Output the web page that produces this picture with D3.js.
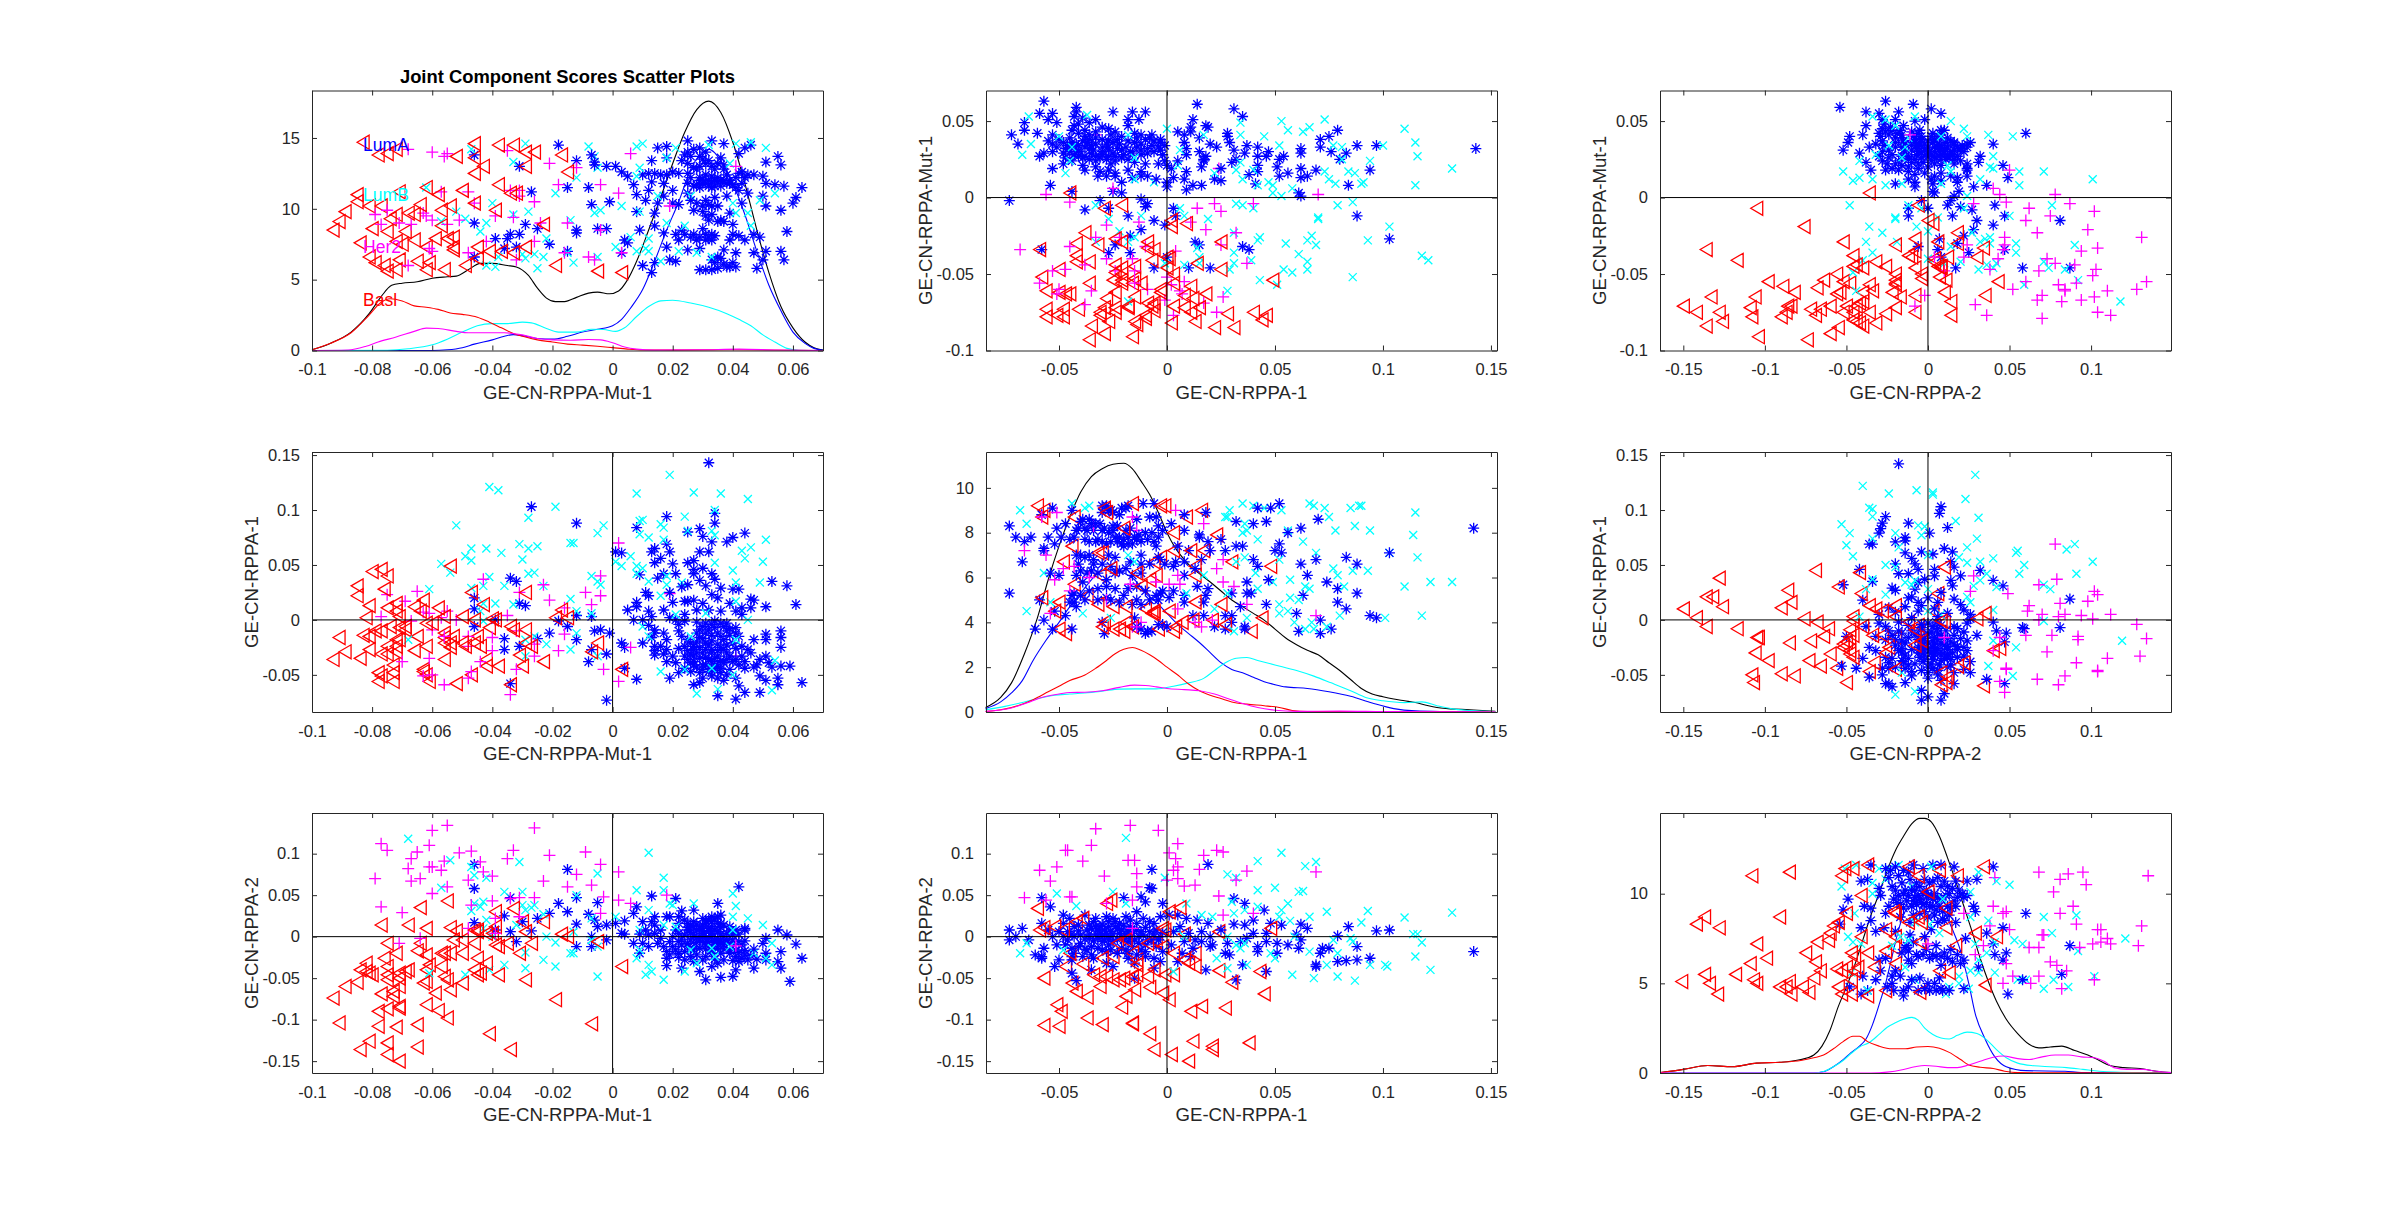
<!DOCTYPE html>
<html>
<head>
<title>Joint Component Scores Scatter Plots</title>
<style>
  html, body { margin: 0; background: white; }
  text { font-family: "Liberation Sans", Arial, sans-serif; fill: #262626; }
</style>
<script src="https://cdn.jsdelivr.net/npm/d3@7"></script>
</head>
<body>
<div id="chart"></div>
<script>
// scores are kept x1000, pairs are [x, y]
var names = ['GE-CN-RPPA-Mut-1', 'GE-CN-RPPA-1', 'GE-CN-RPPA-2'];
var classNames = ['LumA', 'LumB', 'Her2', 'Basl'];

// Mut-1 against RPPA-1
var mr1_lumA = [[-27,103],[-12,88],[-34,38],[-32,35],[-46,20],[-46,10],[-46,-6],[-39,0],[-31,15],[-29,13],[-12,4],[-7,3],[-18,-1],[-15,-6],[-21,-12],[-25,-17],[-36,-17],[-36,-27],[-31,-24],[-12,-18],[-6,-10],[-4,-9],[-1,-12],[-7,-27],[-8,-38],[-2,-31],[-2,-73],[-34,-58],[3,-21],[4,-25],[4,-44],
[32,143],[34,97],[34,88],[18,94],[8,84],[29,83],[30,76],[25,80],[44,79],[40,75],[38,71],[33,71],[18,69],[1,62],[3,61],[13,62],[14,65],[16,56],[29,62],[32,62],[20,51],[9,41],[17,42],[21,42],[25,52],[27,54],[27,42],[27,46],[30,47],[33,42],[34,37],[25,32],[31,31],[40,28],[42,28],[53,35],[58,31],[61,14],[51,12],[46,19],[47,18],[11,25],[12,22],[8,16],[8,12],[5,9],[7,0],[12,8],[13,3],[17,9],[20,16],[24,17],[25,17],[27,18],[28,9],[33,23],[35,20],[32,9],[36,8],[39,15],[41,8],[43,11],[43,5],[46,11],
[10,0],[19,2],[21,0],[24,-1],[31,-3],[33,-4],[36,-3],[41,-7],[29,-9],[32,-9],[35,-12],[38,-10],[41,-12],[22,-10],[14,-9],[14,-12],[13,-16],[10,-21],[14,-24],[18,-18],[23,-15],[25,-18],[29,-16],[31,-21],[33,-19],[37,-18],[40,-21],[43,-24],[47,-18],[51,-13],[51,-18],[56,-10],[56,-16],[56,-25],
[14,-28],[18,-27],[14,-32],[18,-38],[21,-39],[24,-24],[24,-33],[27,-27],[27,-33],[30,-30],[33,-27],[35,-33],[38,-30],[43,-33],[45,-27],[49,-36],[51,-33],[52,-39],[53,-43],[56,-42],[59,-42],[44,-44],[47,-43],[51,-55],[49,-51],[55,-53],[55,-59],[63,-57],[49,-66],[44,-66],[41,-72],[35,-69],[42,-60],[41,-53],[29,-57],[27,-59],[30,-53],[22,-48],[19,-53],[8,-54],[27,-38],[27,-41],[30,-41],[33,-38],[33,-44],[35,-42],[37,-39],[39,-45],[24,-44],[26,-47],
[30,-6],[34,-7],[37,-6],[39,-8],[28,-12],[31,-12],[33,-14],[36,-15],[39,-14],[42,-15],[26,-21],[28,-20],[30,-17],[32,-23],[35,-22],[36,-25],[38,-23],[41,-26],[27,-24],[29,-25],[31,-27],[33,-30],[35,-28],[37,-27],[39,-33],[41,-36],[25,-28],[26,-31],[28,-30],[29,-35],[31,-34],[32,-36],[34,-35],[36,-37],[38,-36],[40,-38],[42,-41],[25,-36],[26,-39],[28,-43],[30,-45],[32,-47],[34,-46],[36,-48],[38,-50],[33,-51],[35,-53],[37,-55],[31,-41],[29,-48],[34,-41],[36,-44],[22,-26],[20,-33],[17,-31],[16,-24],[46,-30],[48,-41],[44,-38],[17,-12],[22,-4],[28,-2],[34,-1],[38,-3],[30,15],[24,5],[19,25],[23,30],[36,29],[29,36],[12,-5],[15,38],[14,52],[19,62]];
var mr1_lumB = [[-41,121],[-38,118],[-28,93],[-19,103],[-52,86],[-47,65],[-49,58],[-47,54],[-42,65],[-37,61],[-31,69],[-28,65],[-25,67],[-30,55],[-57,51],[-54,43],[-61,28],[-28,42],[-26,43],[-41,39],[-47,29],[-43,31],[-36,31],[-23,31],[-14,70],[-13,70],[-3,86],[-5,79],[-7,40],[-5,35],[-4,32],[-14,19],[-33,14],[-43,15],[-39,15],[-44,8],[-43,-1],[-68,-18],[-29,-18],[-26,-15],[-22,-22],[-14,-27],[-12,-12],[-12,8],[-7,6],[-29,-33],[-5,-33],
[19,132],[8,115],[27,116],[36,115],[45,110],[34,100],[24,94],[10,91],[9,90],[16,87],[17,84],[9,78],[12,75],[25,81],[33,81],[34,77],[51,73],[17,73],[46,66],[43,63],[44,56],[50,53],[6,58],[1,53],[3,49],[8,49],[10,47],[8,42],[12,35],[34,52],[40,45],[41,34],[49,34],[18,40],[23,34],[18,32],[16,22],[45,0],[10,-6],[21,5],[41,17],[54,-37],[53,-64],[28,-67],[35,-63],[16,-47],[40,-50],[24,-45],[41,-18],[12,-15],[33,-44],[26,-15],[31,6]];
var mr1_her2 = [[-75,23],[-69,17],[-65,26],[-77,3],[-67,-1],[-63,7],[-61,6],[-60,-9],[-55,8],[-57,2],[-52,0],[-43,37],[-35,4],[-31,25],[-23,32],[-21,18],[-9,25],[-16,11],[-7,14],[-4,40],[-4,22],[2,70],[19,24],[41,-33],[6,-25],[-3,-45],[2,-56],[-18,-28],[-16,-13],[-32,-10],[-26,-22],[-26,-33],[-32,-45],[-34,-68],[-40,-28],[-40,-16],[-44,-38],[-47,-47],[-48,-53],[-48,-15],[-48,-24],[-56,-59],[-60,-50],[-61,-35],[-63,-51],[-70,-38],[-56,-15]];
var mr1_basl = [[-91,-16],[-89,-29],[-93,-36],[-84,-35],[-85,22],[-85,31],[-80,44],[-77,46],[-75,40],[-76,28],[-81,13],[-82,2],[-75,11],[-72,15],[-72,8],[-71,3],[-79,-10],[-81,-15],[-83,-14],[-81,-27],[-77,-10],[-74,-6],[-71,-7],[-69,-9],[-65,-15],[-72,-18],[-75,-24],[-72,-29],[-77,-31],[-75,-31],[-78,-48],[-73,-48],[-73,-41],[-78,-56],[-77,-51],[-73,-56],[-66,-28],[-62,-24],[-63,-45],[-63,-47],[-62,-50],[-61,-56],[-56,-36],[-52,-58],[-47,-50],[-42,-36],[-42,-42],[-38,-42],[-34,-59],[-30,-42],[-23,-38],[-31,-32],[-66,12],[-63,18],[-58,11],[-64,8],[-62,-3],[-56,3],[-50,3],[-46,0],[-47,25],[-43,14],[-54,49],[-56,-12],[-56,-16],[-54,-21],[-53,-15],[-60,-3],[-45,-15],[-44,-24],[-41,-7],[-39,0],[-40,1],[-34,-6],[-33,-9],[-29,-9],[-29,25],[-29,-21],[-27,-24],[-17,9],[-19,2],[-15,2],[-5,-21],[-7,-29],[3,-45],[-49,-24],[-50,-21],[-46,-21],[-56,-21],[-54,-25],[-71,-18],[-72,-24],[-69,-6]];

// Mut-1 against RPPA-2
var mr2_lumA = [[-46,87],[-15,81],[-46,58],[42,60],[-34,47],[-12,47],[-18,40],[-5,41],[13,49],[21,46],[35,40],[8,36],[-21,28],[-15,30],[-8,27],[-25,22],[-36,25],[-46,17],[-30,18],[-12,15],[-6,20],[-5,12],[-2,14],[1,16],[4,19],[7,28],[3,4],[4,3],[-27,7],[-34,6],[-39,8],[-32,-6],[-7,0],[-7,-12],[-12,-12],[-2,-4],
[23,31],[27,32],[14,24],[13,18],[18,24],[10,18],[14,14],[11,8],[7,-8],[10,-8],[12,-12],[9,-20],[18,-18],[18,-26],[18,-35],[23,-38],[29,-42],[31,-52],[33,-36],[36,-49],[40,-48],[41,-40],[35,-32],[47,-38],[45,-28],[27,-30],[30,-28],[59,-54],[63,-26],[61,-9],[58,2],[55,8],[56,-18],[56,-38],[55,-30],[51,-2],[50,-8],[51,-20],[51,-28],[44,10],[44,8],[36,26],[33,24],[30,22],[27,18],[25,16],[22,16],[21,8],[19,24],[16,8],[16,-2],[20,0],[22,4],[25,8],[27,12],[31,16],[33,12],[36,16],[39,12],[41,8],[30,4],[33,4],[35,6],[27,0],[29,-4],[32,-2],[35,-2],[37,0],[22,-6],[25,-8],[27,-12],[31,-10],[34,-10],[37,-10],[41,-16],[44,-22],[41,-24],[39,-20],[36,-20],[33,-20],[24,-18],[22,-20],[20,-12],[17,-12],[40,-4],[43,-10],
[26,13],[28,15],[30,14],[31,19],[32,10],[33,18],[34,21],[35,24],[36,11],[37,14],[29,10],[30,7],[32,7],[34,8],[36,3],[38,4],[39,7],[26,5],[27,3],[28,-1],[30,1],[31,-2],[33,0],[34,-5],[36,-5],[38,-4],[40,2],[42,3],[24,2],[23,-3],[26,-4],[28,-7],[30,-6],[32,-7],[34,-7],[36,-8],[38,-7],[40,-9],[42,-6],[44,-5],[25,-12],[27,-16],[29,-14],[31,-15],[33,-16],[35,-14],[37,-15],[39,-16],[42,-19],[44,-17],[46,-23],[48,-27],[43,-26],[47,-15],[23,-10],[19,-6],[21,-16],[19,-22],[22,-25],[24,-28],[26,-24],[28,-22],[31,-24],[34,-27],[37,-28],[40,-29],[42,-30],[30,10],[33,6],[25,11],[28,8],[35,16],[32,20],[24,20],[22,24],[14,4],[15,-8],[12,2],[9,3]];
var mr2_lumB = [[-68,118],[12,101],[-31,90],[-54,92],[-47,84],[-46,74],[-42,71],[-5,76],[-57,59],[17,71],[8,56],[17,56],[-12,50],[-36,54],[-30,54],[40,52],[41,37],[27,40],[19,40],[-47,31],[-46,40],[-44,36],[-43,42],[-30,38],[-29,32],[-27,35],[-26,38],[-23,27],[12,32],[20,38],[-42,20],[-7,22],[40,24],[45,22],[50,14],[-43,10],[-40,0],[-32,14],[-22,0],[-19,-7],[-7,-4],[-13,6],[-5,-12],[-14,-20],[-13,-20],[-29,-19],[-36,-34],[-41,-40],[-29,-38],[-23,-28],[-19,-36],[-49,-46],[-61,-44],[-5,-48],[8,-26],[9,-16],[12,-34],[13,-42],[11,-46],[17,-52],[24,-42],[26,-16],[33,-14],[39,-12],[47,-20],[53,-8],[51,-26],[53,-34],[28,-32],[40,8],[17,14],[9,8],[21,12],[34,-24],[1,24]];
var mr2_her2 = [[-55,134],[-60,128],[-26,131],[-77,112],[-75,104],[-61,110],[-65,102],[-67,94],[-51,101],[-47,103],[-33,104],[-35,94],[-9,102],[-21,98],[-4,87],[2,78],[-44,90],[-43,78],[-40,73],[-12,75],[-56,91],[-57,80],[-61,84],[-60,84],[-68,82],[-79,70],[-67,67],[-64,70],[-55,60],[-48,68],[-23,67],[-15,60],[-7,62],[-60,52],[-77,36],[-70,29],[-47,38],[-40,43],[-34,46],[-31,47],[-26,47],[-3,48],[2,44],[6,40],[18,50],[-4,28],[-31,24],[-39,22],[-48,10],[-64,-2],[-71,-8],[41,-11],[-39,4]];
var mr2_basl = [[-93,-74],[-91,-104],[-89,-60],[-85,-55],[-84,-136],[-81,-126],[-75,-128],[-75,-142],[-71,-150],[-65,-133],[-65,-106],[-78,-108],[-72,-109],[-78,-90],[-75,-87],[-71,-84],[-71,-86],[-73,-72],[-77,-69],[-73,-66],[-71,-60],[-82,-32],[-84,-40],[-82,-42],[-81,-44],[-80,-46],[-75,-46],[-75,-52],[-71,-50],[-71,-44],[-69,-42],[-68,-40],[-63,-56],[-62,-54],[-62,-40],[-61,-34],[-62,-82],[-59,-68],[-58,-89],[-55,-98],[-54,-64],[-55,-52],[-56,-48],[-57,-36],[-57,-20],[-56,-20],[-54,-20],[-62,-22],[-65,-17],[-72,-20],[-76,-26],[-75,-36],[-75,-8],[-77,14],[-68,14],[-62,10],[-64,35],[-55,43],[-64,-8],[-54,11],[-52,7],[-53,-4],[-50,-4],[-50,-20],[-45,8],[-46,-8],[-45,-26],[-50,-56],[-46,-40],[-45,-46],[-42,-32],[-44,-44],[-38,-46],[-41,-117],[-34,-136],[-29,-52],[-31,-20],[-27,-8],[-29,6],[-39,30],[-33,34],[-39,12],[-38,-12],[-35,-8],[-23,18],[-30,18],[-17,3],[-15,0],[-19,-76],[-7,-105],[3,-36],[-5,-6],[-40,4],[-42,4],[-46,8],[-45,6],[-39,-10]];

// RPPA-1 against RPPA-2
var r1r2_lumA = [[-73,8],[-73,-4],[-67,10],[-70,0],[-64,-4],[-58,47],[-54,36],[-58,16],[-61,-22],[-58,-24],[-58,-26],[-57,-14],[-52,-36],[-50,-28],[-48,26],[-44,-44],[-42,-53],[-44,-24],[-44,-28],[-35,-40],[-28,-32],[-25,-36],[-15,-50],[-20,47],[-12,48],[-10,42],[-8,59],[-7,81],[-7,58],[-2,40],[19,87],[31,46],[36,40],[45,32],[32,-52],[46,-42],[18,-40],[35,-34],[84,12],[97,7],[103,8],[142,-18],[94,-26],[88,-28],[79,-30],[83,-29],[69,-34],[69,-36],[88,-12],[79,1],[72,-14],[75,-14],[71,-20],[60,3],[62,15],[65,10],[62,-4],[61,-14],[56,-10],[51,-8],[51,-20],[53,14],[48,16],[46,4],[46,-6],[42,-12],[42,-18],[40,4],[40,20],[36,14],[31,15],[34,-6],[37,-2],[28,-8],[27,-20],[29,-22],[19,16],[16,6],[20,0],[20,-12],[21,-10],[14,20],[9,22],[5,26],[1,26],[8,-6],[13,-4],[11,-24],[5,-30],[7,-20],[-6,-38],[-10,-24],[-3,24],[-6,16],
[-48,16],[-45,22],[-43,12],[-38,26],[-33,22],[-28,24],[-25,22],[-19,24],[-14,30],[-8,18],[-48,0],[-47,-10],[-43,0],[-40,-8],[-37,8],[-36,-2],[-33,12],[-31,4],[-30,-6],[-27,12],[-26,0],[-23,10],[-21,0],[-17,12],[-16,4],[-14,16],[-12,6],[-9,-4],[-5,8],[-3,0],[-37,-16],[-30,-16],[-43,-20],[-53,0],[-51,-10],[-55,8],[-39,-24],[-18,-20],[-16,-12],[-21,-14],[-12,-16],[-5,-12],[-34,-26],[-27,-10],[-24,18],[-18,-26],[-15,-32],
[-46,6],[-44,3],[-41,7],[-40,2],[-38,-3],[-36,3],[-35,10],[-34,-5],[-33,3],[-32,8],[-32,-2],[-31,12],[-30,2],[-29,-4],[-29,8],[-28,4],[-27,-3],[-26,6],[-25,3],[-25,-6],[-24,12],[-23,-3],[-22,4],[-21,8],[-20,-4],[-20,14],[-19,3],[-18,-6],[-18,6],[-17,-2],[-15,-4],[-14,8],[-13,0],[-13,-8],[-11,2],[-10,11],[-10,-10],[-8,6],[-7,-4],[-6,3],[-4,-4],[-2,5],[-36,14],[-34,18],[-30,15],[-27,18],[-22,16],[-17,20],[-11,22],[-41,-12],[-38,-15],[-35,-12],[-32,-14],[-28,-18],[-26,-16],[-23,-20],[-19,-16],[-14,-22],[-10,-18],[-6,-26],[-3,-30],[-41,14],[-46,-4],[-50,6],[-44,-14],[-35,-22],[3,6],[6,12],[10,4],[12,-14],[16,-6],[25,8],[-2,-18],[2,-10]];
var r1r2_lumB = [[-19,119],[53,101],[42,91],[69,90],[64,85],[28,75],[32,71],[-1,71],[42,56],[50,59],[61,54],[63,55],[-51,52],[-25,54],[9,40],[30,42],[-42,37],[-19,40],[56,40],[53,32],[42,36],[74,30],[93,31],[110,23],[132,29],[31,28],[36,32],[52,24],[57,19],[66,24],[90,17],[21,24],[16,26],[114,3],[116,3],[118,-7],[115,-24],[122,-40],[101,-34],[102,-36],[94,-34],[87,-53],[79,-48],[68,-50],[58,-46],[74,-34],[79,-20],[86,-6],[85,-2],[66,-18],[50,-26],[48,-20],[36,-8],[34,-14],[37,-34],[28,-38],[23,-26],[3,-42],[-65,-8],[-68,-20],[-48,-16],[5,8],[8,0],[28,0],[32,-10],[77,-4],[59,0]];
var r1r2_her2 = [[-17,134],[-33,130],[-4,128],[5,112],[-35,110],[-47,104],[-46,104],[1,101],[17,98],[23,104],[26,102],[-39,91],[-18,92],[-15,92],[4,94],[-51,84],[5,84],[3,80],[15,81],[-59,80],[-14,76],[-29,73],[69,78],[37,79],[32,68],[0,68],[5,70],[-54,67],[8,61],[-14,60],[13,62],[24,49],[-66,47],[-44,48],[-45,48],[-28,40],[-16,44],[26,26],[40,28],[-16,10],[-56,44]];
var r1r2_basl = [[-60,34],[-57,-50],[-47,-36],[-44,-56],[-42,-66],[-37,-73],[-37,-98],[-30,-106],[-51,-82],[-49,-90],[-57,-107],[-50,-108],[-21,-85],[-19,-72],[-15,-64],[-8,-61],[-2,-68],[1,-76],[-16,-105],[-16,-104],[-8,-117],[-6,-136],[2,-142],[10,-150],[12,-126],[21,-132],[21,-136],[11,-90],[16,-84],[27,-86],[38,-128],[45,-69],[30,-55],[24,-41],[43,-42],[13,-36],[10,-32],[3,-46],[-1,-46],[-9,-48],[-14,-46],[-16,-48],[-20,-50],[-22,-52],[-25,-52],[-28,-48],[-31,-48],[-31,-60],[-34,-46],[-39,-33],[-45,-20],[-42,18],[-39,22],[-52,12],[-57,11],[-59,8],[-48,8],[-26,44],[-28,40],[6,35],[1,30],[-2,10],[8,3],[24,6],[48,10],[-5,-6],[-9,-8],[-23,-8],[-19,-4],[-16,-20],[-14,-28],[-25,-24],[-30,-26],[3,-20],[8,-28],[13,-20],[-2,-12],[-6,-40],[-14,-34],[-1,8]];

// diagonal panels: score against the vertical offset it was plotted at
var d1_lumA = [[-46,13.8],[-46,9],[-46,6.6],[-39,7.9],[-34,8.2],[-35,7.9],[-36,7.2],[-32,7.3],[-31,8.2],[-29,8.9],[-31,13],[-27,11.2],[-25,8.6],[-21,7.5],[-18,14.5],[-15,7],[-15,11.5],[-12,13.4],[-12,8.5],[-12,8.3],[-8,11.5],[-7,10.3],[-7,13.8],[-6,13.3],[-6,13.1],[-5,8.6],[-2,8.6],[-2,13],[-1,10.5],[1,13],[3,12.6],[5,12.3],[3,6.9],[4,7.8],[5,7.6],
[7,11.7],[8,11],[8,9.8],[9,8.5],[10,6],[13,5.5],[14,6.2],[10,12.4],[13,13.4],[13,11.9],[12,11.3],[11,10.6],[14,9.7],[14,8.8],[15,10.4],[15,14.3],[18,14.4],[18,13.6],[14,12.5],[17,11.8],[17,10.9],[20,10.4],[20,11.3],[17,8.3],[18,7.3],[19,6.4],[21,6.3],[22,7.8],[23,8.5],[22,10.3],[25,14.8],[25,14],[23,13.4],[25,11.8],[25,11.1],[26,8],[25,7.1],[27,12.9],[29,13.7],[29,12],[29,14.3],[29,5.7],[29,7.2],[29,8],[27,9.9],[31,13.2],[31,11.8],[31,10.6],[33,8.2],[33,7.8],[33,14.8],[33,5.7],[33,6.4],[35,6.6],[35,9.1],[33,10.2],[35,11.9],[37,14.6],[37,12.8],[36,13.6],[37,7.1],[39,5.9],[41,5.9],[41,6.9],[39,7.8],[40,8.9],[39,9.7],[41,11.5],[43,11.8],[43,10.4],[44,14.3],[46,14.5],[42,13.9],[45,11.1],[44,7.8],[47,6.9],[48,5.8],[50,6.4],[47,8.2],[49,8],[51,7],[50,10.9],[51,10.2],[51,13.3],[50,12.3],[55,13.7],[56,13.1],[56,9.9],[56,7],[57,6.4],[58,8.4],[57,11.6],[60,10.4],[61,10.8],[63,11.5],[51,11.8],[54,11.7],[39,11.8],[29,12.2],[33,11.9],[25,12.5],[47,12.4],[38,10.9],
[24,13.8],[25,13.2],[26,13.7],[27,14.2],[26,12.2],[27,11.6],[28,12.8],[28,11.7],[29,13],[29,11.5],[30,12.1],[30,13.5],[30,11.8],[31,12.4],[31,14],[32,12],[32,13.4],[32,11.6],[33,12.3],[33,13],[33,11.5],[34,12],[34,12.8],[34,11.6],[35,12.2],[35,13.2],[36,12],[36,11.6],[37,12],[37,13.1],[38,11.8],[38,12.4],[39,12],[40,11.7],[41,12.2],[42,12.5],[43,12.6],[44,12.2],[45,12.4],[42,11.3],[26,10.6],[28,10.4],[30,9.8],[30,10.2],[31,9.5],[32,10.3],[32,9.2],[33,9.6],[34,10.8],[35,10.2],[36,9.2],[30,8.6],[27,8.2],[28,7.8],[31,7.8],[32,8],[34,8.1],[31,8.2],[24,8.2],[22,12.5],[20,12.6],[21,8.2],[37,9.1],[40,8.2],[36,6.5],[35,5.8],[37,6.1],[38,5.9],[40,6.2],[34,6.2],[31,5.7],[42,8.1],[16,12.4],[18,12.4],[12,12.5]];
var d1_lumB = [[-29,14.6],[-47,14.2],[-33,13.3],[-8,14.4],[-6,13.7],[-5,12.9],[-12,12.2],[-19,11.1],[-62,11.5],[-40,10.4],[-28,9.8],[-33,9.6],[-52,9.8],[-49,9.3],[-42,9],[-14,9.2],[-6,9.7],[-4,9.9],[3,10.2],[-57,9.1],[-44,8.4],[-22,7.9],[-38,6.6],[-30,6.8],[-29,6.5],[-26,6.8],[-23,6.6],[-25,5.8],[-15,6.9],[-13,6.2],[-5,6.6],[-42,6],[-39,5.9],[1,7.3],[6,8],[8,7],[11,7.2],[12,7],[9,9.8],[8,14.4],[10,14.6],[9,12.9],[8,12.3],[21,14.3],[18,13.6],[15,10.9],[22,7],[18,9],[12,7.9],[24,8.8],[28,6.9],[26,10.9],[32,14.5],[41,14.6],[46,14.7],[51,14.3],[39,13.2],[54,11.1],[49,10.6],[45,9.7],[41,9.7],[46,8.8],[33,6.6],[16,6.3],[40,10.4]];
var d1_her2 = [[-68,14.2],[-60,14],[-56,13.7],[-55,13.9],[-35,14.1],[-21,13.2],[-12,12.9],[6,13.9],[-4,11.7],[-18,11.7],[2,11.1],[-34,11.3],[-31,11.3],[-57,11.2],[-48,11.2],[-75,9.9],[-79,9.6],[-77,8.9],[-71,9],[-67,8.9],[-63,9.7],[-62,9.5],[-60,9.2],[-55,8.9],[-51,9.2],[-46,10.4],[-39,9.5],[-33,9.4],[-31,10.9],[-26,10.5],[-24,9],[-15,9],[-42,7.7],[-26,7.7],[-48,6.9],[-61,7.2],[-60,7],[-68,6],[-32,6.4],[-16,6.9],[-8,6.6],[-6,6.4],[-4,8.5],[3,6.9],[19,10.2],[41,13]];
var d1_basl = [[-93,8.5],[-91,9.1],[-89,9.8],[-85,10.5],[-85,11],[-84,7.6],[-83,14.7],[-80,8.6],[-81,10.2],[-81,6.6],[-78,13.8],[-75,13.9],[-72,14.2],[-71,11.2],[-77,10.2],[-74,9.3],[-72,9.6],[-68,9.7],[-75,8.4],[-69,8.4],[-72,7.7],[-70,7.5],[-79,6.2],[-76,6],[-75,5.6],[-71,6.4],[-72,5.7],[-65,6.3],[-61,6.2],[-62,5.7],[-66,7.8],[-62,7.3],[-59,7.9],[-55,7.9],[-53,7.3],[-53,7.1],[-56,5.7],[-64,10.3],[-62,11.5],[-58,11],[-57,9.9],[-54,10.2],[-52,13.7],[-50,11.3],[-46,10.4],[-46,14.6],[-46,13.6],[-43,13],[-46,12.5],[-39,9.9],[-38,14.5],[-33,14.5],[-29,14],[-26,14],[-29,13],[-38,11.7],[-34,11.1],[-32,11.1],[-23,8.9],[-29,7.3],[-45,7.3],[-41,7],[-37,7],[-33,6.9],[-49,6],[-45,6.5],[-17,13.8],[-15,12.6],[-19,6],[-5,5.6],[3,5.5],[-53,8],[-57,8.8],[-66,9.6]];

var d2_lumA = [[-73,8.3],[-70,7.8],[-66,7.6],[-67,6.7],[-63,7.8],[-73,5.3],[-61,3.7],[-59,5],[-58,8.8],[-57,7.3],[-57,7.2],[-55,7.8],[-57,4.1],[-54,6.2],[-53,9.1],[-52,7.5],[-53,3.7],[-52,4.5],[-51,8.2],[-50,6.1],[-49,7.8],[-47,8.4],[-45,7.7],[-47,4.3],[-44,9],[-44,3.7],[-45,4.9],[-43,5.3],[-42,8.1],[-40,7],[-39,8.6],[-38,7.7],[-37,6.2],[-36,8.6],[-34,8.1],[-34,6.6],[-32,7.7],[-30,9.2],[-28,9.2],[-30,8.1],[-28,7.5],[-26,9],[-25,8.3],[-24,7.8],[-21,7.5],[-18,9.2],[-18,7.8],[-16,7.5],[-11,9.3],[-6,9.3],[-14,8.6],[-8,8.7],[-5,8.7],[-4,7.8],[-5,7.4],[2,8.4],[8,8.1],[15,7.8],[10,7.2],[4,6.7],[-3,6.8],[-12,7],[-24,6.9],[-27,7],[-34,6.8],[-41,6.6],[-42,6.1],[-39,5.8],[-32,5.5],[-28,5.9],[-24,6.2],[-19,6.4],[-12,6.2],[-43,4.9],[-29,3.5],[-30,4],[-28,5.1],[-24,5.5],[-18,5.5],[-14,5.6],[-16,4.8],[-15,4.2],[-10,3.5],[-7,3.6],[-2,3.9],[-5,5.2],[1,5.1],[-3,5.3],[8,5.2],[8,4.9],[12,4.3],[17,4.3],[22,3.8],[27,3.7],[27,4.3],[30,4.3],[30,4],[36,3.8],[34,4.7],[30,5.3],[18,5.2],[17,4.9],[19,5.5],[14,5.6],[8,6.1],[8,6.7],[16,6.8],[20,7.2],[25,7.7],[19,7.6],[18,8.9],[8,8.8],[15,7.9],[27,7.2],[32,7.4],[35,7.4],[32,8.5],[40,8.4],[46,8.5],[42,9.1],[48,9.1],[52,9.3],[52,7.5],[50,7.2],[53,7.1],[56,8],[62,8.2],[70,8.6],[69,6.8],[62,6.6],[65,6.1],[63,5.2],[60,4.4],[61,3.6],[71,4.1],[71,3.5],[76,3.7],[74,5.8],[79,5.5],[79,4.9],[83,4.6],[83,6.9],[88,6.6],[88,5.3],[94,4.3],[97,4.2],[103,7.1],[142,8.2],[40,6.8],[42,6.5],[47,5.9],[46,4.8],[37,5.8],[37,5.3],[39,5.3],[36,3.7],
[-43,7.8],[-41,8.2],[-40,8.5],[-38,8.2],[-37,8.1],[-36,7.6],[-35,8.4],[-33,8.4],[-33,7.6],[-31,8.4],[-30,7.6],[-29,8.2],[-27,8],[-26,7.6],[-25,8.1],[-23,8.3],[-23,7.6],[-22,7.8],[-20,7.7],[-20,7.4],[-19,8.1],[-18,7.5],[-17,8.2],[-15,7.8],[-14,7.7],[-13,7.9],[-12,7.6],[-10,8],[-9,7.7],[-7,8],[-6,7.6],[-4,8.3],[-2,8.1],[-30,8.9],[-27,9],[-25,8.9],[-22,8.8],[-21,9.1],[-19,9.1],[-42,7],[-40,6.3],[-38,6.9],[-36,7],[-35,6.3],[-32,6.2],[-30,6.6],[-26,6.5],[-22,6.3],[-17,6.7],[-16,6.1],[-12,6.6],[-8,6.6],[-4,6.9],[-1,6.6],[-40,5.2],[-38,5],[-36,5.4],[-32,5],[-28,5.6],[-26,5],[-22,4.9],[-20,5.2],[-14,5],[-12,4.8],[-10,5.4],[-8,5],[-4,5],[-2,5.4],[3,5.4],[0,3.8],[-4,3.9],[-9,3.6],[-12,3.7],[-14,3.8],[-42,4.7],[-44,5.2],[5,7.4],[3,6.5],[13,6.4]];
var d2_lumB = [[-68,9],[-65,8.4],[-65,4.5],[-57,6.2],[-54,4.9],[-44,9.3],[-38,9.1],[-36,9.2],[-39,4.4],[28,8.7],[27,8.7],[29,9],[35,9.3],[40,9.2],[45,9.1],[53,9],[66,9.3],[68,9.2],[73,9.1],[75,8.7],[85,9.1],[89,9.2],[90,9.2],[115,8.9],[87,8.3],[78,8.1],[94,8.1],[114,7.9],[36,8.4],[37,8.1],[35,8],[42,7.7],[56,8.1],[63,7.6],[69,7.1],[116,6.9],[103,7.1],[77,6.4],[79,6.1],[86,6.3],[93,6.3],[36,6.9],[32,6.7],[52,6.8],[57,5.9],[64,5.6],[66,5.5],[49,5.8],[41,6.2],[82,5.6],[110,5.6],[122,5.8],[132,5.8],[118,4.3],[101,4.2],[80,4.3],[67,4],[59,4],[52,4.4],[56,4.5],[37,4.2],[31,3.6],[74,3.8],[68,3.7],[64,3.7],[61,5],[57,5.1],[52,4.8],[22,4.6],[-18,7],[-15,6.7],[-26,4.2],[9,5.3],[17,6.1],[28,5.3],[42,5.5]];
var d2_her2 = [[-66,7.2],[-56,7],[-51,8.9],[-58,8.7],[-54,4.4],[-52,5.9],[-45,5.4],[-34,8.3],[-16,8.7],[-14,8.1],[4,9],[17,8.4],[20,7.2],[26,6.8],[23,6.4],[26,5.8],[5,6.1],[6,5.7],[1,5.7],[-5,5.8],[31,5.6],[37,4.8],[5,4.6],[-12,4],[-16,3.8],[16,3.8],[13,4],[21,4.1],[69,4.3],[-28,5],[-36,6],[-17,5.7],[-43,6.5],[-48,6.4],[-14,3.8]];
var d2_basl = [[-60,9.2],[-57,9],[-58,8.7],[-50,3.7],[-47,3.5],[-50,4.9],[-52,4.5],[-58,5.1],[-43,5.7],[-37,5.2],[-31,6.1],[-32,7.1],[-30,7.1],[-48,6.7],[-44,7.4],[-43,8.7],[-29,9.1],[-16,9.3],[-1,9.2],[-3,9.2],[9,8.7],[16,9],[23,7.9],[3,8],[17,7.2],[11,7.2],[3,7.2],[-3,6.9],[-6,6.7],[-8,5.9],[-5,6.1],[13,6.5],[13,6.1],[30,6.7],[48,6.5],[25,4.8],[13,4.9],[1,4.5],[-6,4.4],[-10,4.6],[44,4.2],[39,3.6],[27,3.9],[21,4.1],[12,4.1],[7,4],[3,3.6],[-4,3.7],[-16,3.8],[-20,3.6],[-22,3.7],[-25,3.7],[-30,3.8],[-29,4],[-19,4],[-25,4.7],[-19,4.7],[-32,4.8],[-20,8.2],[-26,6.4],[-14,6.2],[-12,5.6],[-6,4.5],[4,3.8],[-28,8.9],[-7,4.4]];

var d3_lumA = [[-54,8.3],[-49,9.7],[-52,9.1],[-41,10.7],[-39,9.3],[-35,9.2],[-35,11.6],[-41,8.1],[-40,5.4],[-48,4.8],[-41,4.4],[-37,4.6],[-35,8.5],[-37,10.8],[-30,10.3],[-29,9.9],[-32,7.9],[-30,6.3],[-26,6.4],[-29,5.7],[-32,5.2],[-26,11.4],[-24,9.3],[-26,8.9],[-27,8.1],[-22,5.4],[-21,4.6],[-15,4.3],[-15,4.6],[-20,10.2],[-18,11],[-17,9.4],[-17,8.7],[-20,7.9],[-14,7],[-12,6.3],[-17,5.4],[-12,11.2],[-9,11.6],[-8,10.2],[-10,9.3],[-11,8.4],[-6,6.5],[-6,4.6],[-3,11.4],[-1,10.2],[-3,9.4],[0,8.7],[-1,6.9],[0,5],[1,4.6],[5,4.6],[3,11.6],[3,10.7],[3,9.7],[5,9.1],[6,8.4],[5,6.5],[7,5.3],[8,11.6],[8,10.4],[11,9.9],[13,8.8],[13,4.6],[14,6.9],[8,6.5],[16,11.5],[15,10.3],[18,9.8],[17,8.4],[22,4.7],[22,6.3],[24,10.7],[24,9.9],[23,7.5],[28,9.3],[29,9],[30,10.8],[31,5.9],[36,7.8],[40,11.5],[40,7.2],[41,6.6],[46,8.1],[46,6.3],[48,6.7],[49,4.4],[60,8.9],[58,5.2],[87,7.1],[82,5.5],[-5,9.7],[-15,10],[2,8],
[-24,10.9],[-23,11.3],[-22,10.4],[-21,9.7],[-20,11.5],[-19,9.5],[-18,9.9],[-16,10.6],[-15,11.3],[-15,9.2],[-14,10.2],[-13,9.6],[-12,9.9],[-11,10.8],[-10,10.2],[-9,9.6],[-9,8.8],[-8,9.8],[-7,10.6],[-7,9.4],[-6,9.9],[-5,10.4],[-5,8.9],[-4,9.5],[-3,10],[-2,9],[-2,10.8],[-1,9.5],[0,9.9],[1,9.3],[1,10.6],[2,9.9],[3,9.3],[4,10],[4,8.8],[6,9.8],[6,10.9],[7,9.3],[8,9.7],[9,9],[9,8.6],[10,10.7],[10,8.5],[12,10.4],[12,9.3],[13,10],[14,9.2],[16,9.6],[17,10.7],[17,9.3],[19,10.2],[21,10],[22,9.8],[-11,7.7],[-9,7.3],[-13,7.1],[-16,6.7],[-12,6.8],[-10,6.1],[-7,6.6],[-3,6.6],[-2,7.6],[1,6.4],[3,6.6],[5,7.1],[8,6],[10,6.7],[12,6.4],[15,6.2],[18,6.6],[20,6.1],[-22,5],[-20,5.7],[-25,4.8],[-12,4.8],[-10,5.2],[-5,5.3],[-2,4.7],[4,5],[8,4.7],[9,4.6]];
var d3_lumB = [[-53,10.4],[-51,11.4],[-44,11.6],[-30,11.4],[-24,11.4],[-18,11.6],[-34,10.6],[-34,10],[-26,10.8],[-10,10.4],[-45,8.9],[-49,7.6],[-46,7.3],[-41,7.2],[-47,5.6],[-37,4.6],[11,4.4],[25,4.7],[19,5],[13,4.8],[86,4.8],[71,4.7],[77,5.2],[60,5.2],[55,5.2],[102,5.4],[92,6.8],[121,7.5],[76,7.8],[71,8.7],[91,8.8],[58,7.2],[53,7.4],[41,7.3],[36,6.7],[41,5.6],[31,6.3],[29,7.2],[42,10.7],[50,10.5],[31,11.2],[26,10.1],[37,8.5],[26,8.7],[-8,8.4],[1,8.3],[-14,5.9],[-8,5.2],[-12,7.4],[7,7.8],[19,5.4],[-17,7.6],[2,11.5],[9,9.7],[26,5.7],[31,5.6],[-22,7.1]];
var d3_her2 = [[68,11.2],[81,10.8],[86,11.1],[95,11.2],[135,11],[77,10.1],[97,10.5],[41,10.9],[40,9.3],[46,8.9],[48,9],[89,9.3],[81,8.9],[91,8.3],[131,8.2],[38,8.2],[50,8],[104,8],[106,8],[110,7.5],[71,7.7],[70,7.7],[62,7],[68,7],[93,7],[101,7.2],[106,7.3],[112,7.2],[129,7.1],[34,7.1],[75,6.2],[79,6],[48,6.1],[52,5.4],[46,5],[63,5],[68,5.4],[85,5.7],[102,5.2],[82,4.7],[29,6.6],[0,7.2],[22,8.9]];
var d3_basl = [[-151,5.1],[-142,8.3],[-137,8.7],[-137,5.5],[-134,5],[-128,8.1],[-129,4.4],[-118,5.5],[-109,6.1],[-105,7.2],[-108,11],[-107,5.2],[-105,5],[-99,6.4],[-85,11.2],[-91,8.7],[-91,4.8],[-87,4.8],[-85,5.1],[-84,4.4],[-77,4.8],[-73,4.5],[-75,6.7],[-69,6.2],[-66,5.7],[-70,5.3],[-68,7.3],[-61,7.4],[-60,7.8],[-58,8.2],[-55,8.4],[-56,5.8],[-53,5.7],[-50,5.9],[-55,4.8],[-53,4.4],[-47,4.4],[-47,5.2],[-45,5.7],[-43,5.9],[-47,6.7],[-45,6.5],[-53,11],[-51,11.4],[-46,11.4],[-50,8.9],[-41,9.9],[-37,11.6],[-41,7.6],[-37,6.7],[-33,5.9],[-26,4.6],[-37,4.3],[-26,8],[-21,9],[-20,7.6],[-26,6.8],[-21,7],[-20,6.1],[-5,4.5],[-12,11.5],[-6,11],[7,11.3],[18,11],[0,10.1],[11,9.2],[-6,8.7],[11,8.1],[17,7.1],[-5,7.3],[7,5.7],[13,5.6],[35,4.9],[29,7.8],[42,7.6],[34,11.5],[-20,8.9],[-12,8.4],[-4,8.4]];

// density curves on the diagonal, [score x1000, density]
var k1_all = [[-100,.05],[-94,.5],[-87,1.3],[-81,2.6],[-77,3.8],[-73.5,4.6],[-70,4.75],[-65,4.85],[-60,5.1],[-55,5.2],[-52,5.25],[-48,5.7],[-44,6.15],[-40,6.15],[-35,6],[-32,5.9],[-28,5.3],[-25,4.4],[-22,3.7],[-19,3.45],[-16,3.45],[-12,3.75],[-8,4.05],[-5,4.12],[-1,4],[2,4.2],[5,5],[8,6.3],[12,8.5],[16,10.8],[20,13.2],[24,15.4],[28,17],[32,17.6],[36,16.8],[40,14.7],[44,11.8],[48,8.5],[52,5.5],[56,3.1],[60,1.6],[64,.6],[67,.2],[70,.03]];
var k1_lumA = [[-100,0],[-60,0],[-55,.05],[-50,.2],[-46,.45],[-40,.75],[-36,1],[-33,1.12],[-30,1.05],[-25,.85],[-20,.8],[-15,1],[-10,1.3],[-5,1.5],[0,1.75],[3,2.2],[6,3],[10,4.3],[14,6.3],[18,8.5],[22,10.5],[26,12.8],[30,14],[32,14.2],[36,13.4],[40,11.8],[44,9.6],[48,7],[52,4.6],[56,2.8],[60,1.3],[64,.5],[67,.15],[70,.02]];
var k1_lumB = [[-100,0],[-75,.02],[-68,.12],[-60,.4],[-55,.8],[-50,1.3],[-45,1.75],[-40,1.9],[-35,1.9],[-30,2],[-27,1.95],[-22,1.55],[-18,1.3],[-12,1.3],[-7,1.5],[-3,1.48],[1,1.35],[4,1.6],[8,2.4],[12,3.1],[16,3.5],[20,3.55],[26,3.35],[32,3.05],[38,2.6],[42,2.2],[46,1.75],[50,1.1],[54,.6],[58,.15],[62,.02],[70,0]];
var k1_her2 = [[-100,0],[-88,.03],[-82,.3],[-78,.6],[-72,.95],[-66,1.35],[-62,1.58],[-58,1.55],[-52,1.35],[-48,1.25],[-42,1.25],[-36,1.25],[-30,1.1],[-25,.85],[-20,.75],[-14,.72],[-8,.78],[-4,.75],[0,.55],[4,.25],[8,.1],[14,.03],[30,.05],[42,.1],[55,.03],[70,0]];
var k1_basl = [[-100,.05],[-94,.5],[-87,1.25],[-81,2.5],[-77,3.4],[-74,3.65],[-70,3.5],[-66,3.15],[-62,3.05],[-58,2.9],[-54,2.65],[-50,2.55],[-45,2.35],[-41,2],[-37,1.6],[-33,1.2],[-29,.95],[-25,.75],[-20,.6],[-15,.45],[-10,.38],[-5,.3],[0,.2],[5,.1],[10,.04],[20,.03],[40,.05],[70,0]];

var k2_all = [[-84,.2],[-77,.65],[-72,1.3],[-66,2.6],[-60,4.2],[-55,5.9],[-50,7.4],[-45,8.7],[-40,9.8],[-35,10.5],[-30,10.85],[-25,11.05],[-20,11.1],[-16,10.85],[-12,10.3],[-8,9.7],[-4,8.9],[0,8],[4,7.3],[8,6.8],[12,6.4],[16,6.1],[20,5.8],[25,5.4],[30,5],[35,4.7],[40,4.4],[45,4.1],[50,3.7],[55,3.3],[60,3],[65,2.75],[70,2.55],[75,2.2],[80,1.85],[85,1.45],[90,1.05],[95,.8],[100,.68],[105,.58],[110,.5],[115,.42],[120,.3],[125,.2],[130,.15],[140,.1],[152,.03]];
var k2_lumA = [[-84,.15],[-77,.45],[-72,.85],[-67,1.4],[-62,2.3],[-56,3.2],[-50,4],[-45,4.7],[-40,5.3],[-35,5.9],[-30,6.3],[-25,6.35],[-20,6.2],[-15,5.9],[-10,5.3],[-5,4.9],[0,4.4],[5,3.9],[10,3.5],[15,3.1],[20,2.65],[25,2.2],[30,1.9],[35,1.75],[40,1.55],[45,1.35],[50,1.22],[55,1.12],[65,1.05],[75,.9],[85,.7],[95,.4],[105,.15],[115,.05],[130,.02],[152,0]];
var k2_lumB = [[-84,.1],[-75,.25],[-68,.4],[-60,.6],[-52,.75],[-45,.8],[-38,.85],[-30,.93],[-22,1.02],[-15,1.03],[-5,1.03],[3,1.15],[10,1.3],[17,1.5],[22,1.85],[27,2.2],[32,2.4],[37,2.43],[42,2.3],[50,2.1],[60,1.85],[68,1.6],[76,1.3],[85,.95],[92,.65],[100,.5],[110,.42],[118,.45],[125,.28],[132,.14],[140,.07],[152,.02]];
var k2_her2 = [[-84,.03],[-72,.18],[-65,.4],[-58,.65],[-50,.8],[-45,.87],[-38,.88],[-30,.95],[-22,1.1],[-15,1.2],[-10,1.18],[-5,1.12],[0,1.05],[8,1],[15,.95],[22,.8],[28,.6],[35,.38],[42,.2],[50,.08],[60,.03],[80,.04],[100,.02],[152,0]];
var k2_basl = [[-84,.02],[-72,.2],[-62,.55],[-55,.9],[-50,1.15],[-45,1.4],[-38,1.65],[-33,1.95],[-28,2.3],[-24,2.6],[-20,2.8],[-16,2.88],[-12,2.75],[-8,2.55],[-4,2.3],[0,2],[5,1.65],[10,1.25],[15,.95],[20,.75],[25,.6],[30,.45],[37,.35],[45,.28],[52,.2],[58,.07],[65,.02],[100,.02],[152,0]];

var k3_all = [[-164,.02],[-150,.2],[-135,.42],[-120,.35],[-105,.55],[-90,.6],[-78,.75],[-70,1],[-65,1.5],[-60,2.4],[-55,3.7],[-50,4.8],[-45,6],[-40,7.4],[-35,8.8],[-30,10],[-25,11.3],[-20,12.4],[-15,13.2],[-10,13.9],[-5,14.2],[-2,14.2],[2,14],[7,13.2],[12,12],[17,10.7],[22,9.3],[27,7.9],[32,6.4],[37,5.1],[42,4],[48,3],[55,2.2],[62,1.6],[68,1.4],[75,1.45],[82,1.5],[90,1.25],[98,1],[105,.7],[112,.4],[120,.3],[130,.25],[140,.1],[149,.02]];
var k3_lumA = [[-164,0],[-70,0],[-63,.1],[-58,.35],[-52,.75],[-47,1.15],[-42,1.5],[-38,1.9],[-34,2.7],[-30,3.8],[-26,5],[-22,6.5],[-18,8],[-14,9],[-10,9.4],[-5,9.7],[0,9.8],[5,9.6],[10,9],[15,8],[20,6.8],[25,5],[29,3.3],[35,1.9],[41,.9],[48,.35],[60,.13],[84,.1],[94,.02],[149,0]];
var k3_lumB = [[-164,0],[-70,0],[-64,.08],[-58,.35],[-52,.7],[-47,1.1],[-42,1.45],[-36,1.7],[-30,2.15],[-25,2.55],[-20,2.8],[-15,3],[-10,3.1],[-6,2.95],[-2,2.5],[3,2.15],[8,1.95],[13,1.9],[18,2.1],[24,2.28],[30,2.2],[36,1.85],[42,1.3],[48,.85],[55,.55],[65,.4],[75,.35],[85,.3],[95,.2],[105,.1],[115,.05],[149,0]];
var k3_her2 = [[-164,0],[-35,0],[-25,.05],[-15,.2],[-8,.35],[-2,.42],[5,.38],[12,.3],[18,.3],[25,.45],[32,.65],[40,.88],[46,.95],[55,.8],[62,.75],[70,.9],[78,1],[86,1],[94,.9],[102,.85],[108,.65],[114,.3],[122,.2],[132,.2],[140,.1],[149,.02]];
var k3_basl = [[-164,.02],[-150,.2],[-135,.42],[-120,.35],[-105,.55],[-90,.6],[-78,.7],[-70,.85],[-64,1],[-58,1.35],[-52,1.75],[-46,2.05],[-42,2.05],[-37,1.75],[-30,1.5],[-22,1.35],[-14,1.35],[-7,1.45],[0,1.48],[7,1.38],[13,1.15],[20,.75],[25,.45],[32,.32],[40,.25],[47,.1],[55,.02],[149,0]];

// axis ranges and tick labels for the three scores
var scoreDomains = [[-0.1, 0.07], [-0.0838, 0.1528], [-0.1643, 0.149]];
var scoreXTicks = [
  [-0.1, -0.08, -0.06, -0.04, -0.02, 0, 0.02, 0.04, 0.06],
  [-0.05, 0, 0.05, 0.1, 0.15],
  [-0.15, -0.1, -0.05, 0, 0.05, 0.1]
];
var scoreYTicks = [
  [-0.1, -0.05, 0, 0.05],
  [-0.05, 0, 0.05, 0.1, 0.15],
  [-0.15, -0.1, -0.05, 0, 0.05, 0.1]
];
var diagTops = [18.35, 11.6, 14.5];
var diagTicks = [[0, 5, 10, 15], [0, 2, 4, 6, 8, 10], [0, 5, 10]];

var classColors = { lumA: '#0000ff', lumB: '#00ffff', her2: '#ff00ff', basl: '#ff0000' };
var classMarks = {
  lumA: 'M-5.5,0H5.5M0,-5.5V5.5M-4,-4L4,4M-4,4L4,-4',
  lumB: 'M-4,-4L4,4M-4,4L4,-4',
  her2: 'M-6,0H6M0,-6V6',
  basl: 'M-6,0L6,-7V7Z'
};
var classKeys = ['lumB', 'her2', 'basl', 'lumA'];

var pairs = {
  mr1: { lumA: mr1_lumA, lumB: mr1_lumB, her2: mr1_her2, basl: mr1_basl },
  mr2: { lumA: mr2_lumA, lumB: mr2_lumB, her2: mr2_her2, basl: mr2_basl },
  r1r2: { lumA: r1r2_lumA, lumB: r1r2_lumB, her2: r1r2_her2, basl: r1r2_basl }
};
var diagPoints = [
  { lumA: d1_lumA, lumB: d1_lumB, her2: d1_her2, basl: d1_basl },
  { lumA: d2_lumA, lumB: d2_lumB, her2: d2_her2, basl: d2_basl },
  { lumA: d3_lumA, lumB: d3_lumB, her2: d3_her2, basl: d3_basl }
];
var diagCurves = [
  { lumA: k1_lumA, lumB: k1_lumB, her2: k1_her2, basl: k1_basl, all: k1_all },
  { lumA: k2_lumA, lumB: k2_lumB, her2: k2_her2, basl: k2_basl, all: k2_all },
  { lumA: k3_lumA, lumB: k3_lumB, her2: k3_her2, basl: k3_basl, all: k3_all }
];

var W = 2400, H = 1206, PW = 511, PH = 260;
var colLeft = [312, 986, 1660];
var rowTop = [90.5, 452, 813];

var svg = d3.select('#chart').append('svg')
    .attr('width', W)
    .attr('height', H)
    .style('display', 'block');

svg.append('rect').attr('width', W).attr('height', H).attr('fill', 'white');

function fmt(v) { return String(+v.toFixed(3)); }

// classes are mixed so no class sits fully on top, the original plots by sample
function mixClasses(table) {
  var all = [];
  classKeys.forEach(function(c, k) {
    table[c].forEach(function(d, i) {
      all.push({ c: c, d: d, t: (i + 1) / table[c].length + k * 1e-6 });
    });
  });
  return all.sort(function(a, b) { return d3.ascending(a.t, b.t); });
}

function drawPanel(row, col) {
  var isDiag = row === col;
  var g = svg.append('g').attr('transform', 'translate(' + colLeft[col] + ',' + rowTop[row] + ')');
  var x = d3.scaleLinear().domain(scoreDomains[col]).range([0, PW]);
  var y = d3.scaleLinear()
      .domain(isDiag ? [0, diagTops[row]] : scoreDomains[row])
      .range([PH, 0]);
  var px = function(v) { return x(v / 1000); };
  var py = isDiag ? y : function(v) { return y(v / 1000); };

  // which pair table feeds this panel, and if it has to be mirrored
  var table = null, swap = false;
  if (!isDiag) {
    var key = Math.min(row, col) === 0 ? (Math.max(row, col) === 1 ? 'mr1' : 'mr2') : 'r1r2';
    table = pairs[key];
    swap = row < col;
  } else {
    table = diagPoints[row];
  }

  if (isDiag) {
    var line = d3.line()
        .x(function(d) { return px(d[0]); })
        .y(function(d) { return py(d[1]); })
        .curve(d3.curveMonotoneX);
    [['all', '#000000'], ['lumA', classColors.lumA], ['lumB', classColors.lumB],
     ['basl', classColors.basl], ['her2', classColors.her2]].forEach(function(s) {
      g.append('path')
          .datum(diagCurves[row][s[0]])
          .attr('d', line)
          .attr('fill', 'none')
          .attr('stroke', s[1])
          .attr('stroke-width', 1.1);
    });
  }

  g.append('g').selectAll('path')
      .data(mixClasses(table))
    .enter().append('path')
      .attr('d', function(m) { return classMarks[m.c]; })
      .attr('transform', function(m) {
        var a = swap ? m.d[1] : m.d[0], b = swap ? m.d[0] : m.d[1];
        return 'translate(' + px(a) + ',' + py(b) + ')';
      })
      .attr('fill', 'none')
      .attr('stroke', function(m) { return classColors[m.c]; })
      .attr('stroke-width', 1.3);

  if (!isDiag) {
    g.append('line').attr('x1', 0).attr('x2', PW).attr('y1', y(0)).attr('y2', y(0))
        .attr('stroke', 'black');
    g.append('line').attr('y1', 0).attr('y2', PH).attr('x1', x(0)).attr('x2', x(0))
        .attr('stroke', 'black');
  }

  // box plus inward ticks on all four sides, labels only bottom and left
  var yTicks = isDiag ? diagTicks[row] : scoreYTicks[row];
  var xVals = scoreXTicks[col];
  var axes = [
    { a: d3.axisBottom(x).tickValues(xVals).tickFormat(fmt), tr: [0, PH], inner: -5 },
    { a: d3.axisTop(x).tickValues(xVals).tickFormat(''), tr: [0, 0], inner: -5 },
    { a: d3.axisLeft(y).tickValues(yTicks).tickFormat(fmt), tr: [0, 0], inner: -5 },
    { a: d3.axisRight(y).tickValues(yTicks).tickFormat(''), tr: [PW, 0], inner: -5 }
  ];
  axes.forEach(function(ax, i) {
    var ag = g.append('g')
        .attr('transform', 'translate(' + ax.tr[0] + ',' + ax.tr[1] + ')')
        .call(ax.a.tickSizeInner(ax.inner).tickSizeOuter(0).tickPadding(i === 0 ? 13 : 12));
    ag.selectAll('path.domain, line').attr('stroke', '#262626');
    ag.selectAll('text').attr('font-size', 16.5).attr('font-family', null).attr('fill', '#262626');
    ag.attr('font-family', null).attr('font-size', null);
  });

  g.append('text')
      .attr('x', PW / 2).attr('y', PH + 48)
      .attr('text-anchor', 'middle')
      .attr('font-size', 18.6)
      .text(names[col]);

  if (!isDiag) {
    g.append('text')
        .attr('transform', 'translate(-54,' + (PH / 2) + ') rotate(-90)')
        .attr('text-anchor', 'middle')
        .attr('font-size', 18.6)
        .text(names[row]);
  }

  if (row === 0 && col === 0) {
    var labelX = [-0.083, -0.083, -0.083, -0.083];
    var labelY = [14.5, 11, 7.3, 3.55];
    var labelC = [classColors.lumA, classColors.lumB, classColors.her2, classColors.basl];
    classNames.forEach(function(n, i) {
      g.append('text')
          .attr('x', x(labelX[i])).attr('y', y(labelY[i]) + 6)
          .attr('font-size', 17.5)
          .style('fill', labelC[i])
          .text(n);
    });
    g.append('text')
        .attr('x', PW / 2).attr('y', -8)
        .attr('text-anchor', 'middle')
        .attr('font-size', 18.4)
        .attr('font-weight', 'bold')
        .style('fill', 'black')
        .text('Joint Component Scores Scatter Plots');
  }
}

for (var r = 0; r < 3; r++) {
  for (var c = 0; c < 3; c++) drawPanel(r, c);
}
</script>
</body>
</html>
